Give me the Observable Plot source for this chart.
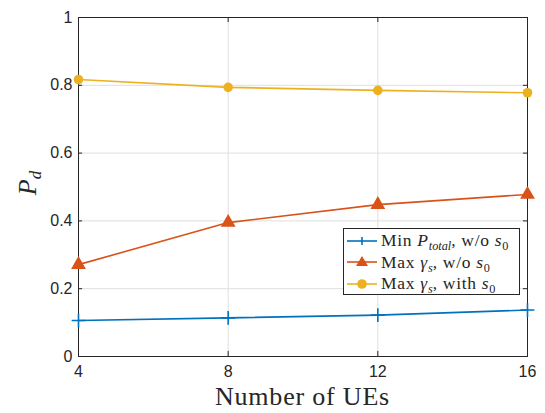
<!DOCTYPE html>
<html><head><meta charset="utf-8">
<script src="https://cdn.jsdelivr.net/npm/d3@7"></script>
<script src="https://cdn.jsdelivr.net/npm/@observablehq/plot@0.6"></script>
<style>
body{margin:0;background:#fff;}
#wrap{position:relative;width:545px;height:413px;}
.lab{position:absolute;font-family:'Liberation Serif','DejaVu Serif','Times New Roman',serif;color:#262626;}
#legend{position:absolute;left:343px;top:228px;width:177px;height:67px;border:1px solid #262626;background:#fff;box-sizing:border-box;font-family:'Liberation Serif','DejaVu Serif','Times New Roman',serif;font-size:17.5px;letter-spacing:0.7px;color:#262626;padding-top:1px;}
#legend .row{display:flex;align-items:center;height:21.5px;white-space:nowrap;}
#legend svg{margin-left:3px;margin-right:4px;flex:none;}
sub{font-size:70%;vertical-align:-0.3em;line-height:0;letter-spacing:0;}
</style></head>
<body><div id="wrap"></div>
<script>
const ues = [4, 8, 12, 16];
const minPtotal = [0.106, 0.114, 0.122, 0.137];
const maxGammaNoS0 = [0.271, 0.395, 0.448, 0.478];
const maxGammaWithS0 = [0.817, 0.794, 0.785, 0.778];
const xTicks = [4, 8, 12, 16];
const yTicks = [0, 0.2, 0.4, 0.6, 0.8, 1];
const seriesNames = ["Min P_total, w/o s_0", "Max γ_s, w/o s_0", "Max γ_s, with s_0"];
const colors = ["#0072BD", "#D95319", "#EDB120"];
const symbols = ["plus", "triangle", "circle"];

const rows = (vals) => ues.map((u, i) => ({x: u, y: vals[i]}));
const s1 = rows(minPtotal), s2 = rows(maxGammaNoS0), s3 = rows(maxGammaWithS0);

const ax = "#262626";
const plot = Plot.plot({
  width: 545, height: 413,
  marginLeft: 78, marginRight: 18, marginTop: 17, marginBottom: 57,
  style: {fontFamily: "'Liberation Sans', Arial, sans-serif", fontSize: "16px", color: ax, background: "white"},
  x: {domain: [4, 16], ticks: xTicks, label: null},
  y: {domain: [0, 1], ticks: yTicks, label: null},
  marks: [
    Plot.gridX(xTicks, {stroke: "#dfdfdf", strokeOpacity: 1}),
    Plot.gridY(yTicks, {stroke: "#dfdfdf", strokeOpacity: 1}),
    Plot.axisX(xTicks, {tickSize: 0, tickPadding: 9, fontSize: 16, fill: ax}),
    Plot.axisY(yTicks, {tickSize: 0, tickPadding: 6, fontSize: 16, fill: ax, tickFormat: d => String(d)}),
    Plot.ruleX(xTicks, {y1: 0, y2: 0.015, stroke: ax}),
    Plot.ruleX(xTicks, {y1: 1, y2: 0.985, stroke: ax}),
    Plot.ruleY(yTicks, {x1: 4, x2: 4.11, stroke: ax}),
    Plot.ruleY(yTicks, {x1: 16, x2: 15.89, stroke: ax}),
    Plot.frame({stroke: ax}),
    Plot.line(s1, {x: "x", y: "y", stroke: colors[0], strokeWidth: 1.6}),
    Plot.dot(s1, {x: "x", y: "y", symbol: "plus", stroke: colors[0], r: 4.5, strokeWidth: 1.6}),
    Plot.line(s2, {x: "x", y: "y", stroke: colors[1], strokeWidth: 1.6}),
    Plot.dot(s2, {x: "x", y: "y", symbol: "triangle", fill: colors[1], r: 5.5}),
    Plot.line(s3, {x: "x", y: "y", stroke: colors[2], strokeWidth: 1.6}),
    Plot.dot(s3, {x: "x", y: "y", symbol: "circle", fill: colors[2], r: 4.8})
  ]
});
const wrap = document.getElementById("wrap");
wrap.appendChild(plot);

const xl = document.createElement("div");
xl.className = "lab";
xl.style.left = "0px"; xl.style.width = "605px"; xl.style.top = "382px";
xl.style.textAlign = "center"; xl.style.fontSize = "26px"; xl.style.letterSpacing = "0.8px";
xl.textContent = "Number of UEs";
wrap.appendChild(xl);

const yl = document.createElement("div");
yl.className = "lab";
yl.style.left = "16px"; yl.style.top = "168px"; yl.style.fontSize = "26px";
yl.style.transform = "rotate(-90deg)"; yl.style.fontStyle = "italic";
yl.innerHTML = "P<sub style='font-size:65%'>d</sub>";
wrap.appendChild(yl);

const labelsHTML = [
  "Min <i>P<sub>total</sub></i>, w/o <i>s</i><sub>0</sub>",
  "Max <i>γ<sub>s</sub></i>, w/o <i>s</i><sub>0</sub>",
  "Max <i>γ<sub>s</sub></i>, with <i>s</i><sub>0</sub>"
];
const leg = document.createElement("div");
leg.id = "legend";
seriesNames.forEach((n, i) => {
  const r = document.createElement("div");
  r.className = "row";
  let sym = "";
  if (symbols[i] === "plus") sym = `<line x1="15" x2="15" y1="4" y2="12" stroke="${colors[i]}" stroke-width="1.6"/>`;
  if (symbols[i] === "triangle") sym = `<path d="M15,2 L21,12 L9,12 Z" fill="${colors[i]}"/>`;
  if (symbols[i] === "circle") sym = `<circle cx="15" cy="8" r="4.8" fill="${colors[i]}"/>`;
  r.innerHTML = `<svg width="30" height="16"><line x1="0" x2="30" y1="8" y2="8" stroke="${colors[i]}" stroke-width="1.6"/>${sym}</svg><span>${labelsHTML[i]}</span>`;
  leg.appendChild(r);
});
wrap.appendChild(leg);
</script></body></html>
